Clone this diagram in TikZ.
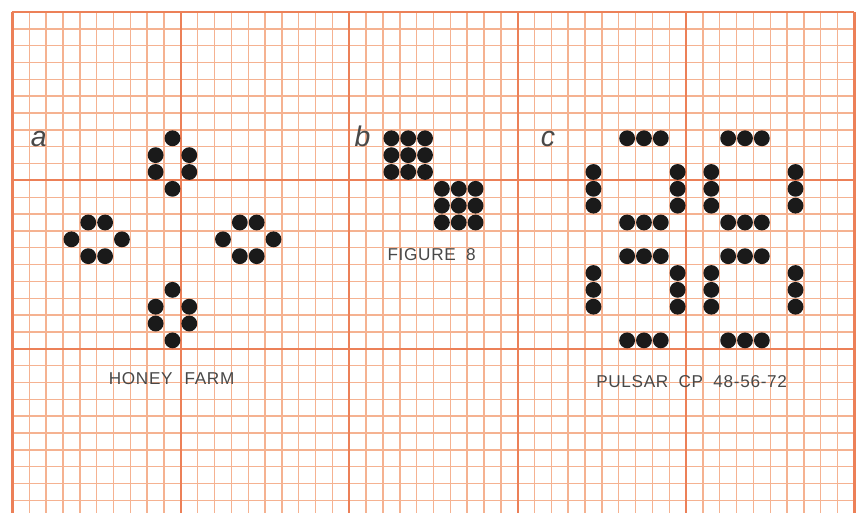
\documentclass[tikz,border=0pt]{standalone}
\usepackage{fontspec}
\setmainfont{Liberation Sans}
\usetikzlibrary{positioning}
\definecolor{gridthin}{RGB}{245,178,145}
\definecolor{gridthick}{RGB}{236,128,88}
\definecolor{dotink}{RGB}{26,26,26}
\definecolor{labelink}{RGB}{72,72,72}
\newcommand{\lifecell}[2]{\fill[lifedot] (#1+0.5,#2+0.5) circle (0.47);}

\begin{document}
\begin{tikzpicture}[
    x=0.5cm, y=-0.5cm,
    fineline/.style={draw=gridthin, line width=1.2pt},
    majorline/.style={draw=gridthick, line width=1.8pt},
    lifedot/.style={fill=dotink},
    caption/.style={text=labelink, font=\fontsize{14.5}{16}\selectfont\addfontfeature{LetterSpace=4}, anchor=base, inner sep=0pt},
    panel/.style={text=labelink, font=\fontsize{24}{26}\selectfont\itshape, anchor=base, inner sep=0pt}
]
    \useasboundingbox (-0.742,-0.713) rectangle (50.33,29.75);
    \fill[white] (-0.742,-0.713) rectangle (50.33,29.75);

    % graph paper
    \foreach \i in {0,...,50} {\draw[fineline] (\i,0) -- (\i,30);}
    \foreach \j in {0,...,30} {\draw[fineline] (0,\j) -- (50,\j);}
    \foreach \i in {0,10,...,50} {\draw[majorline] (\i,0) -- (\i,30);}
    \foreach \j in {0,10,20} {\draw[majorline] (0,\j) -- (50,\j);}

    % a: honey farm
    \foreach \x/\y in {9/7, 8/8, 10/8, 8/9, 10/9, 9/10,
                       4/12, 5/12, 3/13, 6/13, 4/14, 5/14,
                       13/12, 14/12, 12/13, 15/13, 13/14, 14/14,
                       9/16, 8/17, 10/17, 8/18, 10/18, 9/19}
        {\lifecell{\x}{\y}}

    % b: figure 8
    \foreach \x in {22,23,24} {\foreach \y in {7,8,9} {\lifecell{\x}{\y}}}
    \foreach \x in {25,26,27} {\foreach \y in {10,11,12} {\lifecell{\x}{\y}}}

    % c: pulsar
    \foreach \x in {2,3,4,8,9,10} {\foreach \y in {0,5,7,12} {\lifecell{34+\x}{7+\y}}}
    \foreach \x in {0,5,7,12} {\foreach \y in {2,3,4,8,9,10} {\lifecell{34+\x}{7+\y}}}

    % labels
    \node[panel] (panela) at (1.56,8.0) {a};
    \node[panel] (panelb) at (20.78,8.0) {b};
    \node[panel] (panelc) at (31.8,8.0) {c};
    \node[caption] (honeyfarm) at (9.45,22.15) {HONEY\hspace{0.7em}FARM};
    \node[caption] (figureeight) at (24.89,14.77) {FIGURE\hspace{0.6em}8};
    \node[caption] (pulsar) at (40.33,22.3) {PULSAR\hspace{0.6em}CP\hspace{0.6em}48-56-72};
\end{tikzpicture}
\end{document}
